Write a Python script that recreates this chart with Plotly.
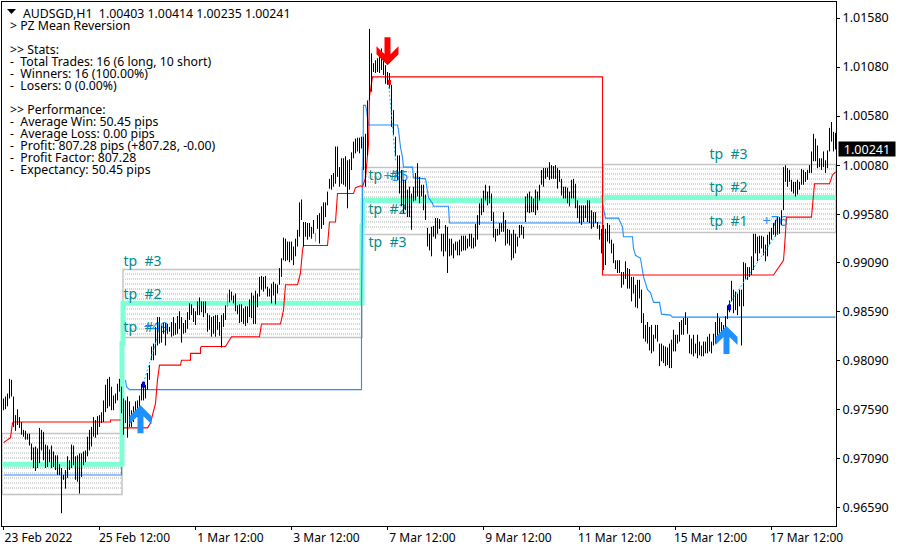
import numpy as np
import plotly.graph_objects as go

# Bar highs / lows, in 1/10000 of a price unit (one bar per hour, in chart order)
high_a = [9770,9772,9775,9790,9789,9772,9753,9759,9751,9746,9738,9737,9734,9734,9724,9720,9721,9719,9740,9738,9736,9723,9722,9718,9722,9716,9712,9712,9703,9699,9692,9697,9711,9707,9723,9722,9711,9712,9714,9714,9716,9717,9731,9738,9741,9751,9748,9752,9753,9756,9768,9784,9790,9792,9782,9773,9775,9785,9790,9782,9770,9768,9772,9767,9758,9762,9767,9768,9773,9785,9787,9784,9796,9804]
low_a = [9758,9759,9762,9770,9772,9741,9737,9743,9740,9733,9731,9728,9728,9722,9707,9699,9696,9699,9704,9717,9707,9699,9700,9705,9699,9700,9697,9692,9692,9653,9687,9678,9689,9697,9699,9702,9687,9685,9673,9690,9702,9705,9711,9717,9721,9731,9730,9733,9741,9745,9746,9756,9760,9762,9758,9758,9765,9768,9777,9755,9733,9745,9730,9741,9741,9746,9750,9751,9755,9768,9768,9770,9779,9789]
high_b = [9823,9826,9843,9853,9853,9844,9847,9847,9846,9843,9848,9853,9847,9854,9859,9853,9847,9850,9858,9867,9866,9862,9859,9869,9873,9869,9869,9869,9857,9855,9853,9854,9855,9855,9848,9855,9857,9865,9877,9881,9879,9875,9877,9865,9866,9866,9862,9864,9864,9871,9878,9875,9880,9877,9894,9895,9894,9895,9884,9882,9887,9889,9887,9886,9903,9913,9934,9933,9930,9930,9930,9925]
low_b = [9809,9809,9814,9824,9826,9827,9836,9824,9836,9838,9833,9834,9835,9836,9841,9827,9836,9837,9841,9850,9855,9848,9845,9855,9855,9858,9853,9857,9838,9840,9833,9836,9833,9840,9834,9822,9843,9850,9863,9868,9870,9867,9859,9856,9847,9848,9846,9844,9847,9853,9852,9846,9846,9863,9874,9881,9879,9882,9874,9874,9867,9875,9866,9877,9886,9894,9911,9910,9911,9909,9911,9906]
high_c = [9933,9942,9970,9973,9950,9950,9949,9949,9945,9952,9939,9957,9959,9966,9970,9970,9981,9994,9998,10000,10027,10027,10006,10015,10015,10017,10013,10014,10021,10032,10035,10036,10036,10037,10037,10040,10074,10147,10122,10112,10115,10117,10125,10127,10122,10110,10103,10102,10090,10064,10037,10018,10018,10003,9993,9993,9983,9986,9979,9986,10000,10010,9996,9988,9988,9978,9944,9938]
low_c = [9915,9925,9935,9952,9925,9935,9932,9935,9933,9938,9930,9943,9928,9943,9947,9955,9967,9984,9983,9986,9989,9996,9986,9989,9988,9986,9964,9983,10003,10015,10020,10022,10020,10025,10003,9986,10018,10074,10083,10103,10102,10103,10102,10105,10100,10091,10090,10086,10047,10039,10017,9993,9979,9966,9959,9962,9955,9955,9942,9971,9972,9976,9969,9976,9962,9952,9925,9921]
high_d = [9945,9946,9954,9954,9953,9938,9938,9947,9945,9933,9933,9928,9930,9930,9932,9936,9936,9936,9933,9938,9938,9934,9948,9957,9969,9974,9982,9988,9981,9987,9979,9960,9943,9943,9949,9949,9960,9952,9943,9942,9938,9942,9938,9935,9947,9947,9945,9976,9979,9981,9976,9974,9983,9981,9988,10003,10005,10005,10005,10011,10008,10007,10008,10005,10003,9994,9986,9986,9985,9981,9993,9994,9989,9972,9967,9967,9967,9967,9972,9972,9962,9960,9960,9950,9947,9943,9947,9943,9949,9947]
low_d = [9915,9935,9933,9938,9943,9920,9915,9920,9898,9915,9916,9913,9921,9916,9916,9920,9921,9921,9923,9925,9923,9923,9925,9932,9947,9957,9960,9972,9967,9969,9951,9934,9930,9936,9937,9940,9940,9926,9928,9926,9911,9913,9918,9925,9934,9937,9933,9950,9960,9959,9960,9960,9957,9962,9972,9988,9986,9994,9996,9993,9994,9994,9994,9984,9991,9977,9974,9974,9969,9966,9974,9974,9964,9954,9949,9947,9950,9954,9950,9949,9943,9945,9949,9943,9932,9918,9901,9906,9930,9928]
high_e = [9932,9928,9911,9911,9911,9899,9899,9910,9903,9902,9894,9894,9886,9891,9891,9881,9857,9845,9848,9843,9845,9835,9845,9845,9826,9826,9824,9823,9822,9826,9830,9840,9835,9835,9848,9850,9852,9858,9852,9835,9831,9835,9826,9835,9828,9824,9828,9828,9833,9836,9828,9836,9848,9857,9852,9848,9845,9854,9865,9870,9890,9881,9879,9877,9881,9881]
low_e = [9918,9908,9902,9898,9898,9883,9886,9892,9882,9882,9869,9877,9863,9862,9872,9847,9831,9828,9826,9819,9816,9818,9831,9828,9803,9808,9806,9803,9804,9801,9801,9818,9818,9826,9828,9835,9835,9845,9836,9816,9815,9813,9816,9811,9814,9813,9813,9816,9816,9818,9816,9824,9826,9829,9835,9831,9833,9836,9851,9858,9869,9857,9860,9855,9864,9824]
high_f = [9909,9908,9904,9904,9915,9938,9938,9935,9936,9936,9935,9927,9937,9940,9944,9949,9952,9955,9955,9962,10006,10008,10005,10003,9993,9991,9991,9993,9991,10004,10003,10001,10003,10008,10022,10040,10035,10028,10015,10015,10022,10013,10023,10046,10052,10042,10041]
low_f = [9864,9892,9891,9894,9896,9901,9918,9910,9918,9923,9916,9910,9915,9927,9932,9937,9935,9937,9938,9947,9962,9991,9986,9991,9981,9979,9976,9978,9983,9988,9988,9991,9993,10000,10000,10012,10012,10005,10006,10003,10006,10000,10005,10022,10032,10022,10024]
lime_bars = [112, 156]

# Stop line (red) and mean line (blue); bar index + price in 1/10000
red_idx = [0,3.5,4.5,5,53.5,53.5,58.5,None,60,72,73.5,75,76,77,78,88.5,89,93.5,93.5,98.5,98.5,99,111,114,128,129,138.5,140,141,147,148.5,149.5,150,162,163,166,166.5,167,175,176,178.5,179.5,181,182.5,183,184.5,299.5,299.5,385,390,390.5,391.5,404,404.5,405.5,413,414.5,416]
red_val = [9725,9730,9745,9746,9746,9748,9748,None,9740,9740,9745,9756,9765,9789,9804,9804,9809,9809,9816,9816,9822,9823,9823,9833,9833,9846,9846,9860,9886,9886,9898,9921,9926,9926,9950,9950,9964,9979,9979,9985,9987,9986,9995,10029,10078,10098,10098,9896,9896,9911,9924,9955,9955,9965,9989,9989,9998,10001]
blue_idx = [0,59,59,None,61,61.5,63,179,179,179.5,179.5,180,181,181.5,182.5,197,197.5,198.5,199.5,200,204.5,205,211,212.5,214.5,215,222.5,223,299.5,299.5,301,307.5,309.5,310,314.5,315,316,318.5,320,322,323.5,325,328,329,333.5,334.5,416]
blue_val = [9692,9692,9700,None,9789,9782,9779,9779,9865,9975,9996,10069,10069,10064,10049,10049,10044,10026,10016,10006,10006,9995,9994,9975,9969,9966,9966,9949,9949,9969,9954,9954,9945,9935,9935,9923,9916,9913,9894,9881,9878,9868,9868,9856,9855,9853,9853]
# Mean level (thick aqua)
mean_idx = [-0.75,59.25,59.25,59.75,59.75,179.25,179.25,179.75,179.75,299.75,299.75,416.25]
mean_val = [9703,9703,9826,9826,9867,9867,9946,9946,9972,9972,9975,9975]
# Take-profit zones
zone_left = [-0.75,59.75,179.25,299.75]
zone_right = [59.25,179.25,299.75,416.25]
zone_top = [0.973423,0.990151,1.000555,1.000861]
zone_bottom = [0.967201,0.983215,0.993721,0.993925]
# Trades
trade_idx = [70,77,None,192.5,196,None,363,387]
trade_val = [9786,9833,None,10092,10013,None,9867,9939]
buy_idx = [68.5,361.5]
buy_val = [9763,9844]
sell_idx = [192]
sell_val = [10110]
entry_long_idx = [70,70,None,363,363]
entry_long_val = [9781,9787,None,9860,9866]
entry_short_idx = [193,193]
entry_short_val = [10090,10095]
# Labels
tp_idx = [60,60,60,182.5,182.5,182.5,353,353,353]
tp_val = [9909,9875,9841,9996,9962,9928,10018,9984,9950]
tp_txt = ["tp  #3","tp  #2","tp  #1","tp  #1","tp  #2","tp  #3","tp  #3","tp  #2","tp  #1"]
gain_idx = [70,190,379.5]
gain_val = [9841,9996,9950]
gain_txt = ["+49","+35","+76"]
ytick_vals = [1.01580,1.01080,1.00580,1.00080,0.99580,0.99090,0.98590,0.98090,0.97590,0.97090,0.96590]
xtick_idx = [0,48,96,144,192,240,288,336,384]
xtick_txt = ["23 Feb 2022","25 Feb 12:00","1 Mar 12:00","3 Mar 12:00","7 Mar 12:00","9 Mar 12:00","11 Mar 12:00","15 Mar 12:00","17 Mar 12:00"]
last_price = 1.00241
info_lines = [("AUDSGD,H1  1.00403 1.00414 1.00235 1.00241",21,13),("> PZ Mean Reversion",8,25),(">> Stats:",8,49),
 ("-  Total Trades: 16 (6 long, 10 short)",8,61),("-  Winners: 16 (100.00%)",8,73),("-  Losers: 0 (0.00%)",8,85),
 (">> Performance:",8,109),("-  Average Win: 50.45 pips",8,121),("-  Average Loss: 0.00 pips",8,133),
 ("-  Profit: 807.28 pips (+807.28, -0.00)",8,145),("-  Profit Factor: 807.28",8,157),("-  Expectancy: 50.45 pips",8,169)]

FONT = "Noto Sans"
highs = np.array(high_a+high_b+high_c+high_d+high_e+high_f)/1e4
lows = np.array(low_a+low_b+low_c+low_d+low_e+low_f)/1e4
assert len(highs)==len(lows)
def pr(v): return [None if a is None else a/1e4 for a in v]
def bars(idx):
    xs,ys=[],[]
    for i in idx:
        xs+=[i,i,None]; ys+=[lows[i],highs[i],None]
    return xs,ys

fig = go.Figure()
# dotted zone fill
RS = 0.00051
dx,dy=[],[]
for l,r,t,b in zip(zone_left,zone_right,zone_top,zone_bottom):
    for yy in np.arange(t-RS,b+RS/2,-RS):
        dx+=[l,r,None]; dy+=[yy+0.000051,yy+0.000051,None]
    fig.add_shape(type="rect",x0=l,x1=r,y0=b,y1=t,line=dict(color="#c4c4c4",width=1.5),layer="below")
fig.add_trace(go.Scatter(x=dx,y=dy,mode="lines",line=dict(color="#d6d6d6",width=2,dash="1px,1px"),hoverinfo="skip"))
fig.add_trace(go.Scatter(x=mean_idx,y=pr(mean_val),mode="lines",line=dict(color="#7fffd4",width=5),hoverinfo="skip"))
fig.add_trace(go.Scatter(x=blue_idx,y=pr(blue_val),mode="lines",line=dict(color="#1e90ff",width=1.1),hoverinfo="skip"))
fig.add_trace(go.Scatter(x=red_idx,y=pr(red_val),mode="lines",line=dict(color="#ff0000",width=1.1),hoverinfo="skip"))
fig.add_trace(go.Scatter(x=tp_idx,y=pr(tp_val),mode="text",text=tp_txt,textposition="middle right",textfont=dict(family=FONT,size=14,color="#008b8b"),hoverinfo="skip"))
fig.add_trace(go.Scatter(x=gain_idx,y=pr(gain_val),mode="text",text=gain_txt,textposition="middle right",textfont=dict(family=FONT,size=14.5,color="#1e90ff"),hoverinfo="skip"))
xs,ys=bars([i for i in range(len(highs)) if i not in lime_bars])
fig.add_trace(go.Scatter(x=xs,y=ys,mode="lines",line=dict(color="#000000",width=1),hoverinfo="skip"))
xs,ys=bars(lime_bars)
fig.add_trace(go.Scatter(x=xs,y=ys,mode="lines",line=dict(color="#00ff00",width=1),hoverinfo="skip"))
fig.add_trace(go.Scatter(x=trade_idx,y=pr(trade_val),mode="lines",line=dict(color="#00bfff",width=1,dash="2px,2px"),hoverinfo="skip"))
fig.add_trace(go.Scatter(x=entry_long_idx,y=pr(entry_long_val),mode="lines",line=dict(color="#0000cd",width=3),hoverinfo="skip"))
fig.add_trace(go.Scatter(x=entry_short_idx,y=pr(entry_short_val),mode="lines",line=dict(color="#ff0000",width=3),hoverinfo="skip"))

UP = "M 0 0 L 11 -11 L 11 -19 L 3 -11 L 3 -28 L -3 -28 L -3 -11 L -11 -19 L -11 -11 Z"
DOWN = "M 0 0 L 11 11 L 11 19 L 3 11 L 3 28 L -3 28 L -3 11 L -11 19 L -11 11 Z"
for i,v in zip(buy_idx,buy_val):
    fig.add_shape(type="path",xsizemode="pixel",ysizemode="pixel",xanchor=i,yanchor=v/1e4,path=UP,fillcolor="#1e90ff",line=dict(width=0),layer="above")
for i,v in zip(sell_idx,sell_val):
    fig.add_shape(type="path",xsizemode="pixel",ysizemode="pixel",xanchor=i,yanchor=v/1e4,path=DOWN,fillcolor="#ff0000",line=dict(width=0),layer="above")
fig.add_shape(type="path",xref="paper",yref="paper",xsizemode="pixel",ysizemode="pixel",xanchor=0,yanchor=1,
              path="M 5 -7 L 14 -7 L 9.5 -12 Z",fillcolor="#000000",line=dict(width=0))

anns=[dict(xref="paper",yref="paper",x=0,y=1,xanchor="left",yanchor="middle",xshift=px-2,yshift=-(py-2),text=t,showarrow=False,
           font=dict(family=FONT,size=12.3,color="#000000")) for t,px,py in info_lines]
anns.append(dict(xref="paper",yref="y",x=1,y=last_price,xanchor="left",yanchor="middle",xshift=2,text=f"{last_price:.5f}",showarrow=False,
                 bgcolor="#000000",font=dict(family=FONT,size=12.5,color="#ffffff"),width=56,height=14,align="center",borderpad=0))
fig.update_layout(width=900,height=550,autosize=False,margin=dict(l=2,r=64,t=2,b=24),paper_bgcolor="#ffffff",plot_bgcolor="#ffffff",
    showlegend=False,annotations=anns,
    xaxis=dict(range=[-0.75,416.25],tickmode="array",tickvals=xtick_idx,ticktext=xtick_txt,ticks="outside",ticklen=3,tickcolor="#000",tickwidth=1,
               showgrid=False,zeroline=False,showline=True,linecolor="#000",linewidth=1,mirror=True,ticklabelshift=35,ticklabelstandoff=-2,
               tickfont=dict(family=FONT,size=12,color="#000"),tickangle=0),
    yaxis=dict(range=[0.963992,1.01744],side="right",tickmode="array",tickvals=ytick_vals,ticktext=[f"{v:.5f}" for v in ytick_vals],
               ticks="outside",ticklen=3,tickcolor="#000",tickwidth=1,showgrid=False,zeroline=False,showline=True,linecolor="#000",linewidth=1,mirror=True,
               tickfont=dict(family=FONT,size=12.5,color="#000")))
fig.write_html("out.html",config=dict(displayModeBar=False),post_script="document.body.style.margin='0';document.documentElement.style.overflow='hidden';")
